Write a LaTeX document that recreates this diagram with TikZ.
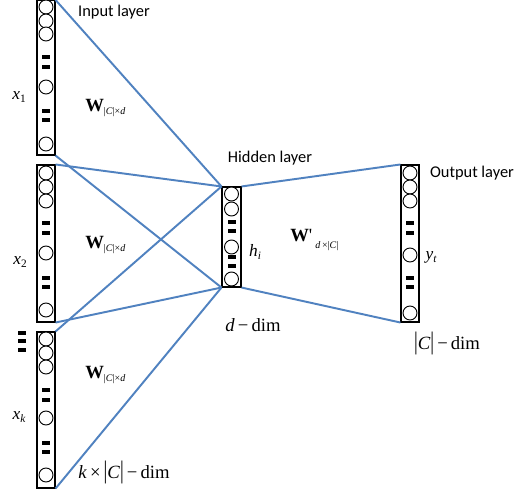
\documentclass[tikz,border=0pt]{standalone}
\usepackage{fontspec}
\setmainfont{Liberation Serif}
\newfontfamily\labfont{Carlito}
\newcommand\lowsub[1]{\raisebox{-0.45ex}{#1}}
\definecolor{linkblue}{RGB}{80,130,192}
\begin{document}
\begin{tikzpicture}[x=0.75pt,y=-0.75pt,
  layerbox/.style={draw=black,line width=0.8pt,minimum width=13.5pt,inner sep=0pt,fill=white},
  link/.style={draw=linkblue,line width=1.45pt},
  unit/.style={draw=black,line width=0.7pt,fill=white},
  dots/.style={fill=black},
  layerlab/.style={font=\labfont\fontsize{12.3}{14}\selectfont,inner sep=0pt},
  mathlab/.style={font=\fontsize{13}{15}\selectfont,inner sep=0pt},
  dimlab/.style={font=\fontsize{14}{16}\selectfont,inner sep=0pt}]
\fill[white] (0,0) rectangle (516,493);
\useasboundingbox (0,0) rectangle (516,493);

% boxes
\node[layerbox,minimum height=115.9pt] (b1) at (46,77.75) {};
\node[layerbox,minimum height=117.75pt] (b2) at (46,243.5) {};
\node[layerbox,minimum height=117pt] (b3) at (46,410) {};
\node[layerbox,minimum width=14.25pt,minimum height=75pt] (h) at (231.5,237) {};
\node[layerbox,minimum height=117.75pt] (o) at (410,243.5) {};

% connections
\draw[link] (b1.north east) -- (h.north west);
\draw[link] (b1.south east) -- (h.south west);
\draw[link] (b2.north east) -- (h.north west);
\draw[link] (b2.south east) -- (h.south west);
\draw[link] (b3.north east) -- (h.north west);
\draw[link] (b3.south east) -- (h.south west);
\draw[link] (h.north east) -- (o.north west);
\draw[link] (h.south east) -- (o.south west);

% units in input boxes
\foreach \yy in {7,21,34,87,144} \draw[unit] (46,\yy) circle[radius=7];
\foreach \yy in {57,67,111,120} \fill[dots] (42,\yy-2.2) rectangle (50,\yy+2.2);
\foreach \yy in {173,187,201,253,310} \draw[unit] (46,\yy) circle[radius=7];
\foreach \yy in {223,233,278,287} \fill[dots] (42,\yy-2.2) rectangle (50,\yy+2.2);
\foreach \yy in {339,353,367,418,475} \draw[unit] (46,\yy) circle[radius=7];
\foreach \yy in {390,400,443,452} \fill[dots] (42,\yy-2.2) rectangle (50,\yy+2.2);
\foreach \yy in {333,341,350} \fill[dots] (18,\yy-2.2) rectangle (26,\yy+2.2);
% hidden units
\foreach \yy in {194,209,247,279} \draw[unit] (231.5,\yy) circle[radius=7];
\foreach \yy in {222,231,257,266} \fill[dots] (227.5,\yy-2.2) rectangle (235.5,\yy+2.2);
% output units
\foreach \yy in {173,187,201,255,313} \draw[unit] (410,\yy) circle[radius=7];
\foreach \yy in {223,233,278,287} \fill[dots] (406,\yy-2.2) rectangle (414,\yy+2.2);

% labels
\node[layerlab] (tin) at (114,12) {Input layer};
\node[layerlab] (thid) at (270,158) {Hidden layer};
\node[layerlab] (tout) at (472,173) {Output layer};

\node[mathlab] (x1) at (19,97) {\textit{x}\lowsub{\fontsize{8.5}{9}\selectfont 1}};
\node[mathlab] (x2) at (20,262) {\textit{x}\lowsub{\fontsize{8.5}{9}\selectfont 2}};
\node[mathlab] (xk) at (19,417) {\textit{x}\lowsub{\fontsize{8.5}{9}\selectfont\itshape k}};

\node[mathlab,anchor=west] (w1) at (85,108) {\fontsize{14}{16}\selectfont\textbf{W}\lowsub{\fontsize{7.5}{8}\selectfont|\textit{C}|×\textit{d}}};
\node[mathlab,anchor=west] (w2) at (85,245) {\fontsize{14}{16}\selectfont\textbf{W}\lowsub{\fontsize{7.5}{8}\selectfont|\textit{C}|×\textit{d}}};
\node[mathlab,anchor=west] (w3) at (85,375) {\fontsize{14}{16}\selectfont\textbf{W}\lowsub{\fontsize{7.5}{8}\selectfont|\textit{C}|×\textit{d}}};
\node[mathlab,anchor=west] (wp) at (290,240) {\fontsize{14}{16}\selectfont\textbf{W}\textquotesingle\,\raisebox{-0.75ex}{\fontsize{7.5}{8}\selectfont\textit{d}\,×|\textit{C}|}};

\node[mathlab] (hi) at (255,252) {\textit{h}\lowsub{\fontsize{8.5}{9}\selectfont\itshape i}};
\node[mathlab] (yt) at (431,257) {\textit{y}\lowsub{\fontsize{8.5}{9}\selectfont\itshape t}};

\node[dimlab] (dd) at (253,325) {\textit{d}\,−\,dim};
\node[dimlab] (cd) at (447,343) {\scalebox{1}[1.35]{|}\textit{C}\scalebox{1}[1.35]{|}\,−\,dim};
\node[dimlab] (kd) at (124,472) {\textit{k}\,×\,\scalebox{1}[1.35]{|}\textit{C}\scalebox{1}[1.35]{|}\,−\,dim};
\end{tikzpicture}
\end{document}
